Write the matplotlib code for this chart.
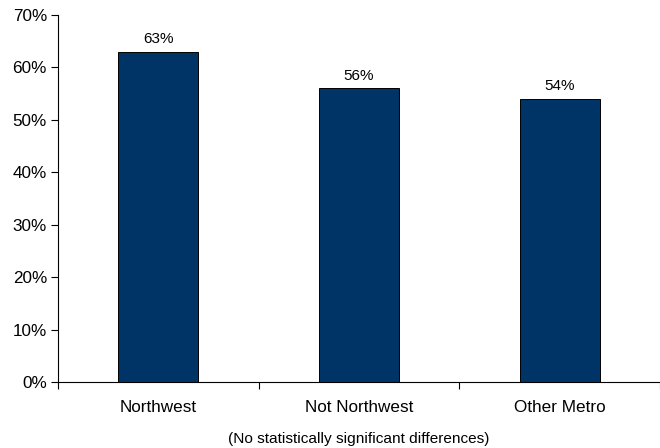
import matplotlib
matplotlib.use("Agg")
import matplotlib.pyplot as plt
from matplotlib.ticker import FixedLocator, PercentFormatter

plt.rcParams['font.family'] = ['Liberation Sans', 'DejaVu Sans']

categories = ["Northwest", "Not Northwest", "Other Metro"]
values = [63, 56, 54]
y_ticks = [0, 10, 20, 30, 40, 50, 60, 70]
footnote = "(No statistically significant differences)"

fig = plt.figure(figsize=(6.6, 4.48), dpi=100)
ax = fig.add_axes([58 / 660, 66 / 448, 1 - 58 / 660, (382 - 15) / 448])

x = list(range(len(categories)))
bars = ax.bar(x, values, width=0.4, color="#003366", edgecolor="black", linewidth=0.7)

for xi, v in zip(x, values):
    ax.annotate(f"{v}%", (xi, v), xytext=(0, 4), textcoords="offset points",
                ha="center", va="bottom", fontsize=11)

ax.set_xlim(-0.5, len(categories) - 0.5)
ax.set_ylim(0, 70)
ax.set_yticks(y_ticks)
ax.yaxis.set_major_formatter(PercentFormatter(decimals=0))
ax.tick_params(axis="y", length=5, width=0.8, labelsize=12.3, pad=3)

ax.set_xticks(x)
ax.set_xticklabels(categories, fontsize=12.3)
ax.tick_params(axis="x", which="major", length=0, pad=13)
ax.xaxis.set_minor_locator(FixedLocator([i - 0.5 for i in range(len(categories) + 1)]))
ax.tick_params(axis="x", which="minor", length=5, width=0.8)

for side in ("top", "right"):
    ax.spines[side].set_visible(False)
for side in ("left", "bottom"):
    ax.spines[side].set_linewidth(0.8)

fig.text((58 + 660) / 2 / 660, 1 - 439 / 448, footnote, ha="center", va="center", fontsize=11.1)

fig.savefig("out.png", dpi=100)
